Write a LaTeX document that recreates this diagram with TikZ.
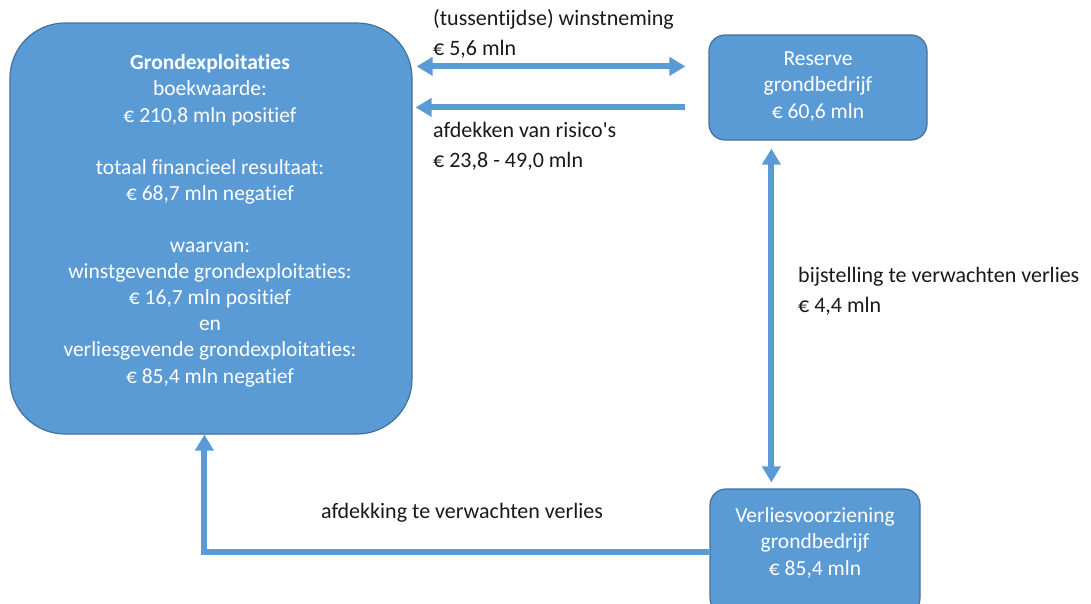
\documentclass[tikz,border=0pt]{standalone}
\usepackage{fontspec}
\setmainfont{Carlito}[Ligatures={TeXOff,NoCommon}]
\usetikzlibrary{positioning,calc,arrows.meta}
\definecolor{boxblue}{HTML}{5B9BD5}
\definecolor{boxedge}{HTML}{41719C}

\begin{document}
\begin{tikzpicture}[x=1pt, y=-1pt,
    bigbox/.style={draw=boxedge, fill=boxblue, rounded corners=55pt, line width=1.2pt, minimum width=402pt, minimum height=411pt},
    smallbox/.style={draw=boxedge, fill=boxblue, rounded corners=16pt, line width=1.2pt, minimum height=105pt},
    boxtext/.style={text=white, align=center, inner sep=0pt, font=\fontsize{21.5}{26.1}\selectfont},
    labeltext/.style={text=black!90, align=left, inner sep=0pt, font=\fontsize{22}{29.5}\selectfont},
    flow/.style={draw=boxblue, line width=6pt, -{Triangle[length=16pt,width=18pt]}},
    dblflow/.style={flow, {Triangle[length=16pt,width=18pt]}-{Triangle[length=16pt,width=18pt]}}
]
    \useasboundingbox (0,0) rectangle (1091,603);
    \clip (0,0) rectangle (1091,603);

    % Grondexploitaties
    \node[bigbox] (grex) at (211, 228.5) {};
    \node[boxtext, anchor=base] (grextext) at (210, 383) {\textbf{Grondexploitaties}\\ boekwaarde:\\ € 210,8 mln positief\\[26.1pt]
        totaal financieel resultaat:\\ € 68,7 mln negatief\\[26.1pt]
        waarvan:\\ winstgevende grondexploitaties:\\ € 16,7 mln positief\\ en\\
        verliesgevende grondexploitaties:\\ € 85,4 mln negatief};

    % Reserve grondbedrijf
    \node[smallbox, minimum width=218pt] (res) at (818, 87.5) {};
    \node[boxtext, anchor=base] (restext) at (818, 118) {Reserve\\ grondbedrijf\\ € 60,6 mln};

    % Verliesvoorziening (runs past the lower edge)
    \node[smallbox, minimum width=210pt, minimum height=125pt] (vv) at (815, 551.5) {};
    \node[boxtext, anchor=base] (vvtext) at (815, 575) {Verliesvoorziening\\ grondbedrijf\\ € 85,4 mln};

    % Connectors between the boxes
    \draw[dblflow] ($(grex.north east)+(4,44)$) -- ($(res.north west)+(-23,32)$);
    \draw[flow] ($(res.north west)+(-23,73)$) -- ($(grex.north east)+(3,85)$);
    \draw[dblflow] ($(res.south west)+(63,8)$) -- ($(vv.north west)+(62,-6)$);
    \draw[flow] ($(vv.north west)+(0,64)$) -| ($(grex.south west)+(195,0)$);

    % Connector labels
    \node[labeltext, anchor=base west] (winst) at (433, 55) {(tussentijdse) winstneming\\ € 5,6 mln};
    \node[labeltext, anchor=base west] (risico) at (433, 167) {afdekken van risico's\\ € 23,8 - 49,0 mln};
    \node[labeltext, anchor=base west] (bijst) at (798, 312) {bijstelling te verwachten verlies\\ € 4,4 mln};
    \node[labeltext, anchor=base] (afdek) at (462, 518) {afdekking te verwachten verlies};

\end{tikzpicture}
\end{document}
